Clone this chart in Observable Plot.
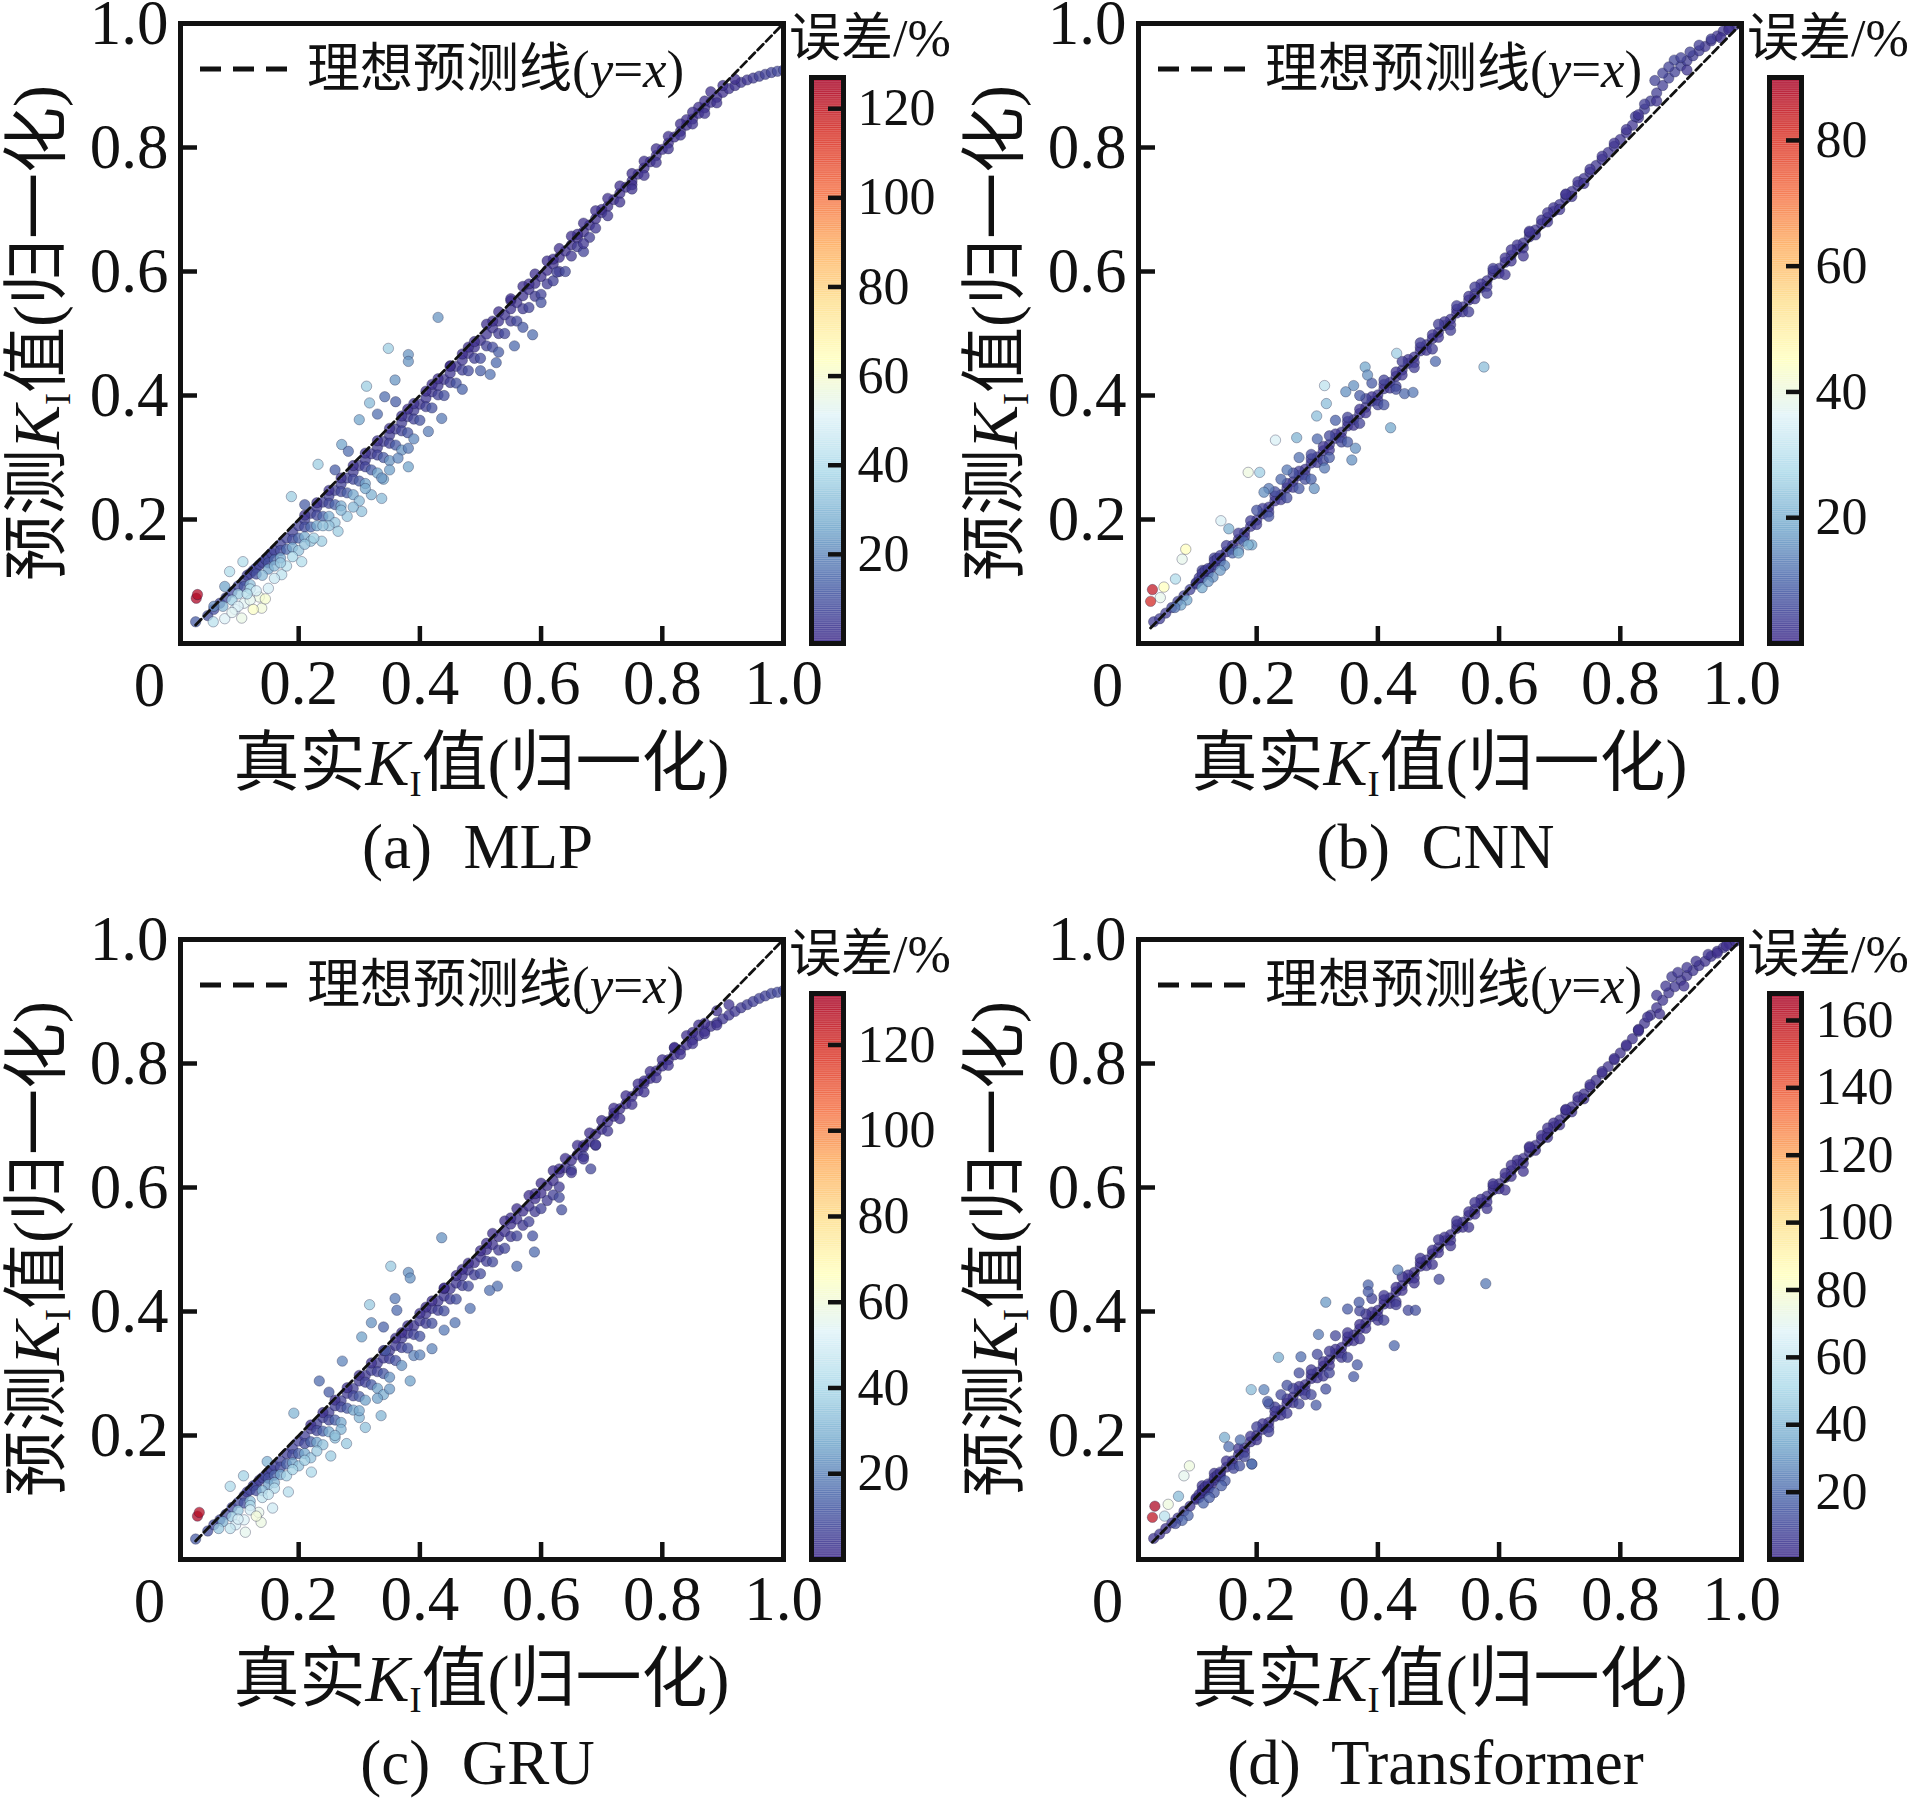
<!DOCTYPE html>
<html>
<head>
<meta charset="utf-8">
<script src="https://cdn.jsdelivr.net/npm/d3@7"></script>
<script src="https://cdn.jsdelivr.net/npm/@observablehq/plot@0.6"></script>
<style>
  body { margin: 0; background: #fff; }
  #fig { position: relative; width: 1914px; height: 1799px; overflow: hidden;
         font-family: "Liberation Serif", "Noto Sans CJK SC", serif; color: #111; }
  .lab { position: absolute; white-space: pre; line-height: 1; }
  .sub { font-size: 0.55em; font-style: normal; position: relative; top: 0.3em; }
  #fig svg { position: absolute; }
</style>
</head>
<body>
<div id="fig"></div>
<script>
// each point: [true KI, predicted KI, error %]
const mlpPoints = [
  [0.03,0.035,12],[0.05,0.045,9],[0.06,0.055,8],[0.07,0.065,7],[0.08,0.074,8],[0.09,0.083,8],[0.10,0.093,7],[0.11,0.102,7],
  [0.115,0.11,5],[0.12,0.113,6],[0.125,0.118,5],[0.13,0.122,6],[0.135,0.127,6],[0.14,0.131,6],[0.145,0.136,6],[0.15,0.14,7],
  [0.155,0.146,6],[0.16,0.15,6],[0.17,0.16,6],[0.18,0.17,6],[0.19,0.18,5],[0.20,0.19,5],[0.21,0.20,5],[0.22,0.21,5],
  [0.23,0.22,4],[0.24,0.228,5],[0.25,0.238,5],[0.26,0.247,5],[0.27,0.257,5],[0.28,0.267,5],[0.29,0.277,4],[0.30,0.287,4],
  [0.31,0.296,4],[0.32,0.306,4],[0.33,0.316,4],[0.34,0.326,4],[0.35,0.336,4],[0.36,0.346,4],[0.37,0.356,4],[0.38,0.366,4],
  [0.39,0.376,4],[0.40,0.386,3],[0.41,0.396,3],[0.42,0.406,3],[0.43,0.416,3],[0.44,0.426,3],[0.45,0.436,3],[0.46,0.447,3],
  [0.47,0.457,3],[0.48,0.468,2],[0.49,0.478,2],[0.50,0.489,2],[0.51,0.499,2],[0.52,0.509,2],[0.53,0.52,2],[0.54,0.53,2],
  [0.55,0.54,2],[0.56,0.55,2],[0.57,0.561,2],[0.58,0.571,2],[0.59,0.581,1],[0.60,0.592,1],[0.61,0.602,1],[0.62,0.612,1],
  [0.63,0.623,1],[0.64,0.633,1],[0.65,0.643,1],[0.66,0.654,1],[0.67,0.664,1],[0.68,0.675,1],[0.69,0.685,1],[0.70,0.695,1],
  [0.71,0.705,1],[0.72,0.716,1],[0.73,0.726,1],[0.74,0.736,1],[0.75,0.746,1],[0.76,0.757,1],[0.77,0.767,1],[0.78,0.777,1],
  [0.79,0.787,1],[0.80,0.797,1],[0.81,0.807,1],[0.82,0.817,1],[0.83,0.826,1],[0.84,0.836,1],[0.85,0.846,1],[0.86,0.855,1],
  [0.87,0.864,1],[0.88,0.873,1],[0.89,0.881,1],[0.90,0.889,1],[0.91,0.895,2],[0.92,0.90,2],[0.93,0.905,3],[0.94,0.909,3],
  [0.95,0.912,4],[0.96,0.915,5],[0.97,0.918,5],[0.98,0.921,6],[0.99,0.923,7],[1.00,0.925,8],
  [0.86,0.865,1],[0.88,0.89,1],[0.90,0.90,1],[0.92,0.91,1],[0.84,0.845,1],[0.75,0.74,1],[0.70,0.70,1],[0.66,0.66,1],
  [0.62,0.62,1],[0.58,0.58,1],[0.55,0.553,1],[0.52,0.52,1],[0.48,0.478,1],[0.45,0.448,1],[0.42,0.418,1],[0.38,0.378,1],
  [0.51,0.515,1],[0.53,0.535,1],[0.55,0.556,1],[0.57,0.576,1],[0.59,0.596,1],[0.61,0.617,1],[0.63,0.637,1],[0.65,0.657,1],
  [0.67,0.678,1],[0.69,0.698,1],[0.71,0.718,1],[0.73,0.738,1],[0.75,0.758,1],[0.77,0.778,1],[0.79,0.798,1],[0.81,0.818,1],
  [0.83,0.838,1],[0.85,0.857,1],[0.87,0.875,1],
  [0.21,0.207,2],[0.23,0.227,2],[0.25,0.247,2],[0.27,0.267,2],[0.29,0.287,2],[0.31,0.307,2],[0.33,0.327,2],[0.35,0.347,2],
  [0.37,0.367,2],[0.39,0.387,2],[0.41,0.407,1],[0.43,0.427,1],[0.45,0.447,1],[0.47,0.467,1],[0.49,0.487,1],
  [0.68,0.655,4],[0.66,0.64,4],[0.67,0.632,6],
  [0.11,0.092,10],[0.13,0.112,9],[0.15,0.13,9],[0.17,0.15,8],[0.19,0.168,8],[0.21,0.188,8],[0.23,0.207,7],[0.25,0.226,7],
  [0.27,0.245,7],[0.29,0.265,7],[0.31,0.285,6],[0.33,0.304,6],[0.35,0.323,6],[0.37,0.343,6],[0.39,0.362,6],[0.41,0.382,5],
  [0.43,0.401,5],[0.45,0.421,5],[0.47,0.441,5],[0.49,0.46,5],[0.51,0.48,5],[0.53,0.50,4],[0.55,0.52,4],[0.57,0.54,4],
  [0.59,0.56,4],[0.61,0.58,4],[0.63,0.60,4],[0.65,0.625,3],[0.67,0.645,3],[0.69,0.67,3],[0.71,0.69,3],[0.73,0.712,2],
  [0.75,0.733,2],[0.77,0.755,2],[0.79,0.776,2],[0.81,0.798,2],[0.83,0.82,2],[0.85,0.838,2],[0.87,0.855,2],[0.89,0.872,2],
  [0.16,0.135,14],[0.18,0.152,14],[0.20,0.17,14],[0.22,0.188,14],[0.24,0.205,13],[0.26,0.224,13],[0.28,0.243,12],[0.30,0.262,12],
  [0.32,0.28,12],[0.34,0.30,11],[0.36,0.32,11],[0.38,0.34,10],[0.40,0.36,10],[0.42,0.38,9],[0.44,0.40,9],[0.46,0.42,9],
  [0.48,0.44,8],[0.50,0.46,8],[0.52,0.478,8],[0.54,0.50,7],[0.56,0.52,7],[0.58,0.542,6],[0.60,0.563,6],[0.62,0.585,5],
  [0.15,0.12,25],[0.17,0.138,26],[0.19,0.155,26],[0.21,0.172,27],[0.23,0.19,26],[0.25,0.205,27],[0.27,0.222,27],
  [0.29,0.24,26],[0.31,0.258,25],[0.33,0.275,25],[0.35,0.295,22],[0.37,0.312,22],[0.39,0.33,20],[0.14,0.11,30],
  [0.12,0.095,32],[0.10,0.08,35],[0.16,0.125,30],[0.20,0.15,33],[0.22,0.165,34],[0.26,0.195,33],[0.30,0.23,30],
  [0.34,0.265,28],[0.12,0.088,40],[0.09,0.07,36],[0.075,0.06,30],[0.095,0.055,50],[0.11,0.065,52],[0.135,0.075,56],
  [0.381,0.285,25],[0.337,0.234,30],[0.32,0.24,28],[0.304,0.213,32],[0.265,0.181,35],[0.238,0.165,35],[0.205,0.132,40],
  [0.172,0.111,42],[0.15,0.089,48],[0.139,0.057,58],[0.106,0.041,55],[0.078,0.04,50],[0.059,0.035,42],[0.414,0.342,18],
  [0.436,0.363,17],[0.337,0.267,22],[0.364,0.299,20],[0.381,0.315,18],[0.35,0.28,24],[0.29,0.22,30],[0.28,0.205,33],
  [0.25,0.19,32],[0.225,0.17,36],[0.19,0.14,38],[0.18,0.125,42],[0.16,0.105,45],[0.13,0.085,48],[0.12,0.07,53],
  [0.10,0.06,50],[0.09,0.05,52],[0.145,0.072,60],[0.125,0.055,62],[0.115,0.08,40],[0.17,0.13,34],[0.21,0.16,32],
  [0.31,0.25,26],[0.27,0.215,30],[0.24,0.19,32],
  [0.348,0.476,35],[0.381,0.466,22],[0.381,0.455,22],[0.312,0.415,35],[0.359,0.425,22],[0.317,0.388,30],[0.30,0.361,25],
  [0.342,0.398,15],[0.271,0.321,25],[0.282,0.31,15],[0.232,0.289,35],[0.188,0.237,35],[0.21,0.224,12],[0.108,0.132,40],
  [0.086,0.116,40],[0.078,0.092,25],[0.43,0.526,22],[0.33,0.37,15],[0.36,0.39,12],[0.26,0.28,12],[0.06,0.06,20],
  [0.626,0.599,5],[0.586,0.498,15],[0.556,0.48,14],[0.526,0.453,14],[0.516,0.434,16],[0.60,0.55,9],[0.64,0.60,7],
  [0.57,0.51,11],[0.53,0.47,12],[0.50,0.44,12],[0.47,0.41,13],
  [0.031,0.073,125],[0.033,0.079,124]
];

const gruPoints = [
  [0.03,0.033,12],[0.05,0.046,9],[0.06,0.056,8],[0.07,0.064,8],[0.08,0.073,8],[0.09,0.084,7],[0.10,0.092,8],[0.11,0.103,6],
  [0.115,0.109,5],[0.12,0.112,7],[0.125,0.119,5],[0.13,0.121,7],[0.135,0.128,5],[0.14,0.132,6],[0.145,0.135,7],[0.15,0.141,6],
  [0.155,0.145,6],[0.16,0.151,6],[0.17,0.159,6],[0.18,0.171,5],[0.19,0.179,6],[0.20,0.191,5],[0.21,0.199,5],[0.22,0.211,4],
  [0.23,0.219,5],[0.24,0.229,5],[0.25,0.237,5],[0.26,0.248,5],[0.27,0.256,5],[0.28,0.268,4],[0.29,0.276,5],[0.30,0.288,4],
  [0.31,0.297,4],[0.32,0.305,5],[0.33,0.317,4],[0.34,0.325,4],[0.35,0.337,4],[0.36,0.345,4],[0.37,0.357,4],[0.38,0.365,4],
  [0.39,0.377,3],[0.40,0.385,4],[0.41,0.397,3],[0.42,0.405,4],[0.43,0.417,3],[0.44,0.425,3],[0.45,0.437,3],[0.46,0.446,3],
  [0.47,0.458,3],[0.48,0.467,3],[0.49,0.479,2],[0.50,0.488,2],[0.51,0.50,2],[0.52,0.508,2],[0.53,0.521,2],[0.54,0.529,2],
  [0.55,0.541,2],[0.56,0.549,2],[0.57,0.562,1],[0.58,0.57,2],[0.59,0.582,1],[0.60,0.591,1],[0.61,0.603,1],[0.62,0.611,1],
  [0.63,0.624,1],[0.64,0.632,1],[0.65,0.644,1],[0.66,0.653,1],[0.67,0.665,1],[0.68,0.674,1],[0.69,0.686,1],[0.70,0.694,1],
  [0.71,0.706,1],[0.72,0.715,1],[0.73,0.727,1],[0.74,0.735,1],[0.75,0.747,1],[0.76,0.756,1],[0.77,0.768,1],[0.78,0.776,1],
  [0.79,0.788,1],[0.80,0.796,1],[0.81,0.806,1],[0.82,0.814,1],[0.83,0.822,1],[0.84,0.83,1],[0.85,0.838,1],[0.86,0.845,2],
  [0.87,0.852,2],[0.88,0.86,2],[0.89,0.866,3],[0.90,0.872,3],[0.91,0.878,3],[0.92,0.884,4],[0.93,0.89,4],[0.94,0.895,5],
  [0.95,0.90,5],[0.96,0.905,6],[0.97,0.909,6],[0.98,0.913,7],[0.99,0.915,8],[1.00,0.918,8],
  [0.87,0.865,1],[0.89,0.885,1],[0.91,0.895,2],[0.85,0.85,1],[0.82,0.825,1],[0.77,0.772,1],[0.72,0.72,1],[0.67,0.668,1],
  [0.63,0.63,1],[0.59,0.59,1],[0.55,0.551,1],[0.51,0.51,1],[0.47,0.468,1],[0.44,0.437,1],[0.41,0.407,1],[0.37,0.366,1],
  [0.52,0.526,1],[0.54,0.546,1],[0.56,0.566,1],[0.58,0.587,1],[0.60,0.607,1],[0.62,0.627,1],[0.64,0.647,1],[0.66,0.668,1],
  [0.68,0.688,1],[0.70,0.708,1],[0.72,0.728,1],[0.74,0.748,1],[0.76,0.767,1],[0.78,0.787,1],[0.80,0.806,1],[0.82,0.826,1],
  [0.84,0.845,1],[0.86,0.862,1],
  [0.22,0.217,2],[0.24,0.237,2],[0.26,0.257,2],[0.28,0.277,2],[0.30,0.297,2],[0.32,0.317,2],[0.34,0.337,2],[0.36,0.357,2],
  [0.38,0.377,2],[0.40,0.397,2],[0.42,0.417,1],[0.44,0.438,1],[0.46,0.458,1],[0.48,0.478,1],[0.50,0.498,1],
  [0.69,0.668,4],[0.67,0.65,4],[0.65,0.628,5],
  [0.11,0.091,10],[0.13,0.111,9],[0.15,0.131,9],[0.17,0.149,8],[0.19,0.169,8],[0.21,0.187,8],[0.23,0.208,7],[0.25,0.225,7],
  [0.27,0.246,7],[0.29,0.264,7],[0.31,0.286,6],[0.33,0.303,6],[0.35,0.324,6],[0.37,0.342,6],[0.39,0.363,6],[0.41,0.381,5],
  [0.43,0.402,5],[0.45,0.42,5],[0.47,0.442,5],[0.49,0.459,5],[0.51,0.481,5],[0.53,0.499,4],[0.55,0.521,4],[0.57,0.539,4],
  [0.59,0.561,4],[0.61,0.579,4],[0.63,0.601,4],[0.65,0.624,3],[0.67,0.646,3],[0.69,0.669,3],[0.71,0.691,3],[0.73,0.711,2],
  [0.75,0.734,2],[0.77,0.754,2],[0.79,0.777,2],[0.81,0.797,2],[0.83,0.815,2],[0.85,0.832,2],[0.87,0.848,2],[0.89,0.862,2],
  [0.16,0.136,14],[0.18,0.154,14],[0.20,0.171,14],[0.22,0.19,13],[0.24,0.207,13],[0.26,0.225,13],[0.28,0.244,12],[0.30,0.263,12],
  [0.32,0.282,11],[0.34,0.30,11],[0.36,0.321,10],[0.38,0.341,10],[0.40,0.36,10],[0.42,0.381,9],[0.44,0.401,9],[0.46,0.42,9],
  [0.48,0.441,8],[0.50,0.461,8],[0.52,0.48,8],[0.54,0.502,7],[0.56,0.522,7],[0.58,0.545,6],[0.60,0.566,6],[0.62,0.588,5],
  [0.15,0.121,25],[0.17,0.137,26],[0.19,0.156,26],[0.21,0.171,27],[0.23,0.189,26],[0.25,0.206,27],[0.27,0.221,27],
  [0.29,0.241,26],[0.31,0.257,25],[0.33,0.276,25],[0.35,0.294,22],[0.37,0.313,22],[0.39,0.329,20],[0.14,0.111,30],
  [0.12,0.094,32],[0.10,0.079,35],[0.16,0.124,30],[0.20,0.151,33],[0.22,0.164,34],[0.26,0.196,33],[0.30,0.229,30],
  [0.34,0.266,28],[0.12,0.087,40],[0.09,0.069,36],[0.075,0.061,30],[0.096,0.056,50],[0.11,0.064,52],[0.134,0.076,56],
  [0.384,0.288,25],[0.336,0.232,30],[0.31,0.213,33],[0.279,0.187,35],[0.253,0.167,36],[0.221,0.141,40],[0.183,0.109,42],
  [0.157,0.083,48],[0.138,0.06,58],[0.112,0.044,55],[0.087,0.05,45],[0.068,0.05,35],[0.30,0.24,27],[0.27,0.21,30],
  [0.24,0.185,33],[0.21,0.16,36],[0.18,0.135,38],[0.16,0.115,42],[0.14,0.10,45],[0.12,0.08,50],[0.10,0.065,50],
  [0.13,0.07,60],[0.35,0.275,24],[0.33,0.26,25],[0.40,0.33,20],[0.44,0.37,18],[0.26,0.20,32],[0.23,0.175,35],
  [0.19,0.145,38],[0.15,0.105,44],
  [0.436,0.519,22],[0.352,0.473,35],[0.381,0.463,22],[0.384,0.454,22],[0.317,0.411,35],[0.359,0.421,18],[0.362,0.402,15],
  [0.32,0.382,22],[0.304,0.359,25],[0.343,0.337,12],[0.272,0.32,20],[0.234,0.288,15],[0.192,0.236,30],[0.148,0.158,30],
  [0.109,0.135,38],[0.087,0.118,40],[0.25,0.27,12],[0.34,0.375,14],
  [0.682,0.63,7],[0.634,0.564,9],[0.63,0.584,8],[0.586,0.522,10],[0.589,0.496,15],[0.56,0.473,15],[0.528,0.441,16],
  [0.515,0.434,16],[0.483,0.405,16],[0.458,0.382,17],[0.42,0.34,20],
  [0.033,0.07,130],[0.036,0.076,128]
];

const cnnPoints = [
  [0.03,0.035,3],[0.04,0.04,3],[0.05,0.049,3],[0.06,0.058,4],[0.07,0.068,4],[0.08,0.077,4],[0.09,0.087,4],[0.10,0.096,4],
  [0.105,0.101,4],[0.11,0.106,4],[0.115,0.112,3],[0.12,0.117,3],[0.125,0.122,3],[0.13,0.127,3],[0.14,0.137,3],[0.15,0.148,2],
  [0.16,0.158,2],[0.17,0.168,2],[0.18,0.179,2],[0.19,0.189,2],[0.20,0.199,2],[0.21,0.209,2],[0.22,0.22,2],[0.23,0.23,2],
  [0.24,0.24,2],[0.25,0.251,2],[0.26,0.261,2],[0.27,0.271,2],[0.28,0.281,2],[0.29,0.291,2],[0.30,0.301,2],[0.31,0.311,2],
  [0.32,0.321,2],[0.33,0.331,2],[0.34,0.341,2],[0.35,0.351,2],[0.36,0.361,2],[0.37,0.371,2],[0.38,0.381,2],[0.39,0.391,2],
  [0.40,0.401,2],[0.41,0.411,2],[0.42,0.421,2],[0.43,0.431,2],[0.44,0.441,2],[0.45,0.452,2],[0.46,0.462,2],[0.47,0.472,2],
  [0.48,0.482,2],[0.49,0.492,2],[0.50,0.502,2],[0.51,0.513,2],[0.52,0.523,2],[0.53,0.533,2],[0.54,0.543,2],[0.55,0.554,2],
  [0.56,0.564,2],[0.57,0.574,2],[0.58,0.585,2],[0.59,0.595,2],[0.60,0.605,2],[0.61,0.615,2],[0.62,0.626,2],[0.63,0.636,2],
  [0.64,0.646,2],[0.65,0.656,2],[0.66,0.667,2],[0.67,0.677,2],[0.68,0.687,2],[0.69,0.697,2],[0.70,0.708,2],[0.71,0.718,2],
  [0.72,0.729,2],[0.73,0.739,2],[0.74,0.75,2],[0.75,0.76,2],[0.76,0.771,2],[0.77,0.781,2],[0.78,0.792,2],[0.79,0.802,2],
  [0.80,0.813,2],[0.81,0.824,2],[0.82,0.836,2],[0.83,0.848,2],[0.84,0.862,3],[0.85,0.875,3],[0.86,0.888,3],[0.87,0.90,3],
  [0.88,0.912,4],[0.89,0.922,4],[0.90,0.932,4],[0.91,0.94,3],[0.92,0.948,3],[0.93,0.956,3],[0.94,0.963,2],[0.95,0.972,2],
  [0.96,0.98,2],[0.97,0.988,2],[0.98,0.993,1],[0.99,0.998,1],[1.00,1.0,1],
  [0.857,0.908,4],[0.889,0.941,5],[0.915,0.954,4],[0.87,0.92,4],[0.90,0.945,4],[0.88,0.93,4],[0.84,0.87,3],[0.93,0.965,3],
  [0.95,0.975,3],[0.966,0.977,1],[0.979,0.99,1],[0.825,0.85,3],[0.86,0.875,2],[0.91,0.925,2],
  [0.11,0.118,4],[0.13,0.138,4],[0.15,0.158,3],[0.17,0.178,3],[0.19,0.198,3],[0.21,0.218,3],[0.23,0.238,3],[0.25,0.258,3],
  [0.27,0.278,3],[0.29,0.298,3],[0.31,0.318,2],[0.33,0.338,2],[0.35,0.358,2],[0.37,0.378,2],[0.39,0.398,2],[0.41,0.418,2],
  [0.43,0.438,2],[0.45,0.458,2],[0.47,0.478,2],[0.49,0.498,2],[0.51,0.519,2],[0.53,0.539,2],[0.55,0.56,2],[0.57,0.58,2],
  [0.59,0.601,2],[0.61,0.622,2],[0.63,0.643,2],[0.65,0.663,2],[0.67,0.683,2],[0.69,0.703,2],[0.71,0.724,2],[0.73,0.745,2],
  [0.75,0.765,2],[0.77,0.786,2],[0.79,0.807,2],[0.81,0.829,2],[0.83,0.853,2],
  [0.12,0.112,4],[0.14,0.132,4],[0.16,0.152,3],[0.18,0.172,3],[0.20,0.192,3],[0.22,0.212,3],[0.24,0.232,3],[0.26,0.252,3],
  [0.28,0.272,3],[0.30,0.292,3],[0.32,0.312,2],[0.34,0.332,2],[0.36,0.352,2],[0.38,0.372,2],[0.40,0.392,2],[0.42,0.412,2],
  [0.44,0.433,2],[0.46,0.453,2],[0.48,0.473,2],[0.50,0.494,2],[0.52,0.514,2],[0.54,0.535,2],[0.56,0.556,2],[0.58,0.576,2],
  [0.60,0.597,2],[0.62,0.617,2],[0.64,0.638,2],[0.66,0.659,2],[0.68,0.68,2],[0.70,0.70,2],[0.72,0.721,2],[0.74,0.742,2],
  [0.20,0.215,7],[0.23,0.245,6],[0.26,0.275,6],[0.29,0.305,5],[0.32,0.335,5],[0.35,0.365,4],[0.38,0.395,4],[0.41,0.425,4],
  [0.44,0.455,3],[0.47,0.485,3],[0.50,0.515,3],[0.53,0.545,3],[0.56,0.575,3],[0.59,0.605,3],[0.62,0.635,2],[0.65,0.665,2],
  [0.68,0.695,2],[0.71,0.725,2],[0.22,0.205,7],[0.25,0.235,6],[0.28,0.265,6],[0.31,0.295,5],[0.34,0.325,5],[0.37,0.355,4],
  [0.40,0.385,4],[0.43,0.415,4],[0.46,0.445,3],[0.49,0.475,3],[0.52,0.505,3],[0.55,0.535,3],[0.58,0.565,3],[0.61,0.595,2],
  [0.64,0.625,2],
  [0.25,0.28,12],[0.27,0.30,11],[0.29,0.265,9],[0.33,0.36,9],[0.35,0.325,8],[0.39,0.42,8],[0.41,0.385,7],[0.30,0.33,10],
  [0.24,0.265,10],[0.22,0.25,12],[0.27,0.25,8],[0.37,0.40,8],[0.43,0.41,6],[0.32,0.30,8],
  [0.10,0.098,3],[0.105,0.106,3],[0.11,0.113,3],[0.115,0.118,3],[0.12,0.121,3],[0.13,0.133,3],[0.135,0.137,3],[0.14,0.142,3],
  [0.128,0.107,15],[0.147,0.126,14],[0.16,0.146,10],[0.179,0.165,9],[0.192,0.159,18],[0.11,0.09,18],[0.12,0.10,16],
  [0.14,0.118,16],[0.17,0.15,12],[0.085,0.07,18],[0.075,0.062,18],[0.065,0.058,12],
  [0.575,0.446,22],[0.495,0.455,10],[0.444,0.403,10],[0.458,0.405,12],[0.421,0.348,18],[0.379,0.446,18],[0.383,0.433,15],
  [0.36,0.416,15],[0.312,0.416,30],[0.315,0.387,22],[0.299,0.367,22],[0.347,0.406,15],[0.363,0.315,15],[0.357,0.296,15],
  [0.431,0.468,25],[0.266,0.332,20],[0.231,0.328,35],[0.186,0.276,40],[0.205,0.276,25],[0.212,0.244,15],[0.295,0.25,15],
  [0.312,0.283,12],[0.141,0.198,35],[0.154,0.185,20],[0.186,0.159,20],[0.17,0.146,20],
  [0.083,0.152,45],[0.077,0.136,38],[0.066,0.104,28],[0.047,0.091,45],[0.041,0.074,38],
  [0.028,0.087,85],[0.025,0.068,82]
];

const trfPoints = [
  [0.03,0.034,3],[0.04,0.041,3],[0.05,0.05,3],[0.06,0.059,4],[0.07,0.067,4],[0.08,0.078,4],[0.09,0.086,4],[0.10,0.097,4],
  [0.105,0.10,4],[0.11,0.107,4],[0.115,0.111,3],[0.12,0.118,3],[0.125,0.121,3],[0.13,0.128,3],[0.14,0.138,3],[0.15,0.149,2],
  [0.16,0.159,2],[0.17,0.169,2],[0.18,0.18,2],[0.19,0.19,2],[0.20,0.20,2],[0.21,0.21,2],[0.22,0.221,2],[0.23,0.231,2],
  [0.24,0.241,2],[0.25,0.252,2],[0.26,0.262,2],[0.27,0.272,2],[0.28,0.282,2],[0.29,0.292,2],[0.30,0.302,2],[0.31,0.312,2],
  [0.32,0.322,2],[0.33,0.332,2],[0.34,0.342,2],[0.35,0.352,2],[0.36,0.362,2],[0.37,0.372,2],[0.38,0.382,2],[0.39,0.392,2],
  [0.40,0.402,2],[0.41,0.412,2],[0.42,0.422,2],[0.43,0.432,2],[0.44,0.442,2],[0.45,0.453,2],[0.46,0.463,2],[0.47,0.473,2],
  [0.48,0.483,2],[0.49,0.493,2],[0.50,0.503,2],[0.51,0.514,2],[0.52,0.524,2],[0.53,0.534,2],[0.54,0.544,2],[0.55,0.555,2],
  [0.56,0.565,2],[0.57,0.575,2],[0.58,0.586,2],[0.59,0.596,2],[0.60,0.606,2],[0.61,0.616,2],[0.62,0.627,2],[0.63,0.637,2],
  [0.64,0.647,2],[0.65,0.657,2],[0.66,0.668,2],[0.67,0.678,2],[0.68,0.688,2],[0.69,0.698,2],[0.70,0.709,2],[0.71,0.719,2],
  [0.72,0.73,2],[0.73,0.74,2],[0.74,0.751,2],[0.75,0.762,2],[0.76,0.773,2],[0.77,0.784,2],[0.78,0.795,2],[0.79,0.806,2],
  [0.80,0.817,2],[0.81,0.828,2],[0.82,0.84,2],[0.83,0.852,3],[0.84,0.865,3],[0.85,0.878,3],[0.86,0.89,3],[0.87,0.902,3],
  [0.88,0.914,4],[0.89,0.924,4],[0.90,0.934,4],[0.91,0.942,3],[0.92,0.95,3],[0.93,0.958,3],[0.94,0.965,2],[0.95,0.973,2],
  [0.96,0.981,2],[0.97,0.987,2],[0.98,0.993,1],[0.99,0.997,1],[1.00,1.0,1],
  [0.86,0.91,4],[0.885,0.94,5],[0.91,0.955,4],[0.875,0.925,4],[0.895,0.947,4],[0.845,0.875,3],[0.925,0.965,3],
  [0.945,0.976,3],[0.96,0.978,1],[0.975,0.99,1],[0.83,0.855,3],[0.865,0.88,2],[0.905,0.925,2],
  [0.11,0.119,4],[0.13,0.139,4],[0.15,0.159,3],[0.17,0.179,3],[0.19,0.199,3],[0.21,0.219,3],[0.23,0.239,3],[0.25,0.259,3],
  [0.27,0.279,3],[0.29,0.299,3],[0.31,0.319,2],[0.33,0.339,2],[0.35,0.359,2],[0.37,0.379,2],[0.39,0.399,2],[0.41,0.419,2],
  [0.43,0.439,2],[0.45,0.459,2],[0.47,0.479,2],[0.49,0.499,2],[0.51,0.52,2],[0.53,0.54,2],[0.55,0.561,2],[0.57,0.581,2],
  [0.59,0.602,2],[0.61,0.623,2],[0.63,0.644,2],[0.65,0.664,2],[0.67,0.684,2],[0.69,0.704,2],[0.71,0.725,2],[0.73,0.746,2],
  [0.75,0.766,2],[0.77,0.787,2],[0.79,0.808,2],[0.81,0.83,2],[0.83,0.854,2],
  [0.12,0.113,4],[0.14,0.133,4],[0.16,0.153,3],[0.18,0.173,3],[0.20,0.193,3],[0.22,0.213,3],[0.24,0.233,3],[0.26,0.253,3],
  [0.28,0.273,3],[0.30,0.293,3],[0.32,0.313,2],[0.34,0.333,2],[0.36,0.353,2],[0.38,0.373,2],[0.40,0.393,2],[0.42,0.413,2],
  [0.44,0.434,2],[0.46,0.454,2],[0.48,0.474,2],[0.50,0.495,2],[0.52,0.515,2],[0.54,0.536,2],[0.56,0.557,2],[0.58,0.577,2],
  [0.60,0.598,2],[0.62,0.618,2],[0.64,0.639,2],[0.66,0.66,2],[0.68,0.681,2],[0.70,0.701,2],[0.72,0.722,2],[0.74,0.743,2],
  [0.20,0.214,7],[0.23,0.246,6],[0.26,0.276,6],[0.29,0.306,5],[0.32,0.336,5],[0.35,0.366,4],[0.38,0.396,4],[0.41,0.426,4],
  [0.44,0.456,3],[0.47,0.486,3],[0.50,0.516,3],[0.53,0.546,3],[0.56,0.576,3],[0.59,0.606,3],[0.62,0.636,2],[0.65,0.666,2],
  [0.68,0.696,2],[0.71,0.726,2],[0.22,0.206,7],[0.25,0.236,6],[0.28,0.266,6],[0.31,0.296,5],[0.34,0.326,5],[0.37,0.356,4],
  [0.40,0.386,4],[0.43,0.416,4],[0.46,0.446,3],[0.49,0.476,3],[0.52,0.506,3],[0.55,0.536,3],[0.58,0.566,3],[0.61,0.596,2],
  [0.64,0.626,2],
  [0.25,0.281,12],[0.27,0.301,11],[0.29,0.266,9],[0.33,0.361,9],[0.35,0.326,8],[0.39,0.421,8],[0.41,0.386,7],[0.30,0.331,10],
  [0.24,0.266,10],[0.22,0.251,12],[0.27,0.251,8],[0.37,0.401,8],[0.43,0.411,6],[0.32,0.301,8],
  [0.10,0.099,3],[0.105,0.105,3],[0.11,0.112,3],[0.115,0.117,3],[0.12,0.122,3],[0.13,0.132,3],[0.135,0.136,3],[0.14,0.141,3],
  [0.13,0.108,15],[0.148,0.127,14],[0.162,0.147,10],[0.18,0.166,9],[0.192,0.154,18],[0.112,0.091,18],[0.122,0.10,16],
  [0.142,0.119,16],[0.172,0.151,12],[0.087,0.071,18],[0.077,0.063,18],[0.066,0.058,12],
  [0.578,0.445,22],[0.501,0.452,10],[0.45,0.402,10],[0.462,0.402,12],[0.427,0.345,18],[0.384,0.443,18],[0.384,0.432,15],
  [0.369,0.415,15],[0.314,0.415,30],[0.35,0.404,15],[0.302,0.363,22],[0.366,0.314,15],[0.36,0.295,15],[0.433,0.467,25],
  [0.273,0.327,20],[0.236,0.326,35],[0.191,0.274,40],[0.212,0.274,25],[0.218,0.255,15],[0.298,0.249,15],[0.314,0.275,12],
  [0.147,0.197,35],[0.154,0.182,20],[0.173,0.193,20],[0.192,0.154,20],
  [0.089,0.151,75],[0.08,0.135,70],[0.071,0.102,40],[0.054,0.089,75],[0.048,0.07,55],
  [0.032,0.086,165],[0.028,0.068,160]
];

const xTicks = [0.2, 0.4, 0.6, 0.8, 1.0];
const yTicks = [0.2, 0.4, 0.6, 0.8, 1.0];
const cbTicksMLP = [20, 40, 60, 80, 100, 120];
const cbTicksCNN = [20, 40, 60, 80];
const cbTicksGRU = [20, 40, 60, 80, 100, 120];
const cbTicksTRF = [20, 40, 60, 80, 100, 120, 140, 160];
const errMaxes = [127, 90, 132, 168];
const captions = ["(a)  MLP", "(b)  CNN", "(c)  GRU", "(d)  Transformer"];
// reversed red-yellow-blue ramp, low end leaning purple as in the figure
const errColors = ["#3d2a8a", "#4a62a8", "#74a8cc", "#abd9e9", "#e0f3f8", "#ffffbf",
                   "#fee090", "#fdae61", "#f46d43", "#d73027", "#a50026"];

// layout
const FW = 603, FH = 620;
const ML = 175, MR = 12, MT = 30, MB = 80;
const CBW = 32, CBTOP = 54;
const FONT = '"Liberation Serif", "Noto Sans CJK SC", serif';
const INK = "#111";

const fig = document.getElementById("fig");

function colorScale(errMax) {
  return {type: "linear", domain: [0, errMax], interpolate: d3.piecewise(d3.interpolateRgb, errColors), clamp: true};
}

function scatterPanel(pts, errMax) {
  const diag = d3.extent(pts, d => d[0]);
  return Plot.plot({
    width: ML + FW + MR, height: MT + FH + MB,
    marginLeft: ML, marginRight: MR, marginTop: MT, marginBottom: MB,
    x: {domain: [0.005, 1], axis: null},
    y: {domain: [0, 1], axis: null},
    color: colorScale(errMax),
    style: {fontFamily: FONT, color: INK, background: "transparent", overflow: "visible"},
    marks: [
      Plot.dot(pts, {x: d => d[0], y: d => d[1], fill: d => d[2], r: 5.2, fillOpacity: 0.75,
        stroke: "#14143a", strokeWidth: 0.7, strokeOpacity: 0.45, clip: true}),
      Plot.line(diag.map(v => [v, v]), {x: d => d[0], y: d => d[1], stroke: INK,
        strokeWidth: 2.8, strokeDasharray: "8,4"}),
      Plot.axisX({ticks: xTicks, tickSize: -17, tickPadding: 33, tickFormat: d => d.toFixed(1),
        fontSize: 63, strokeWidth: 4.5, stroke: INK}),
      Plot.axisY({ticks: yTicks, tickSize: -17, tickPadding: 29, tickFormat: d => d.toFixed(1),
        fontSize: 63, strokeWidth: 4.5, stroke: INK}),
      Plot.text(["0"], {text: d => d, frameAnchor: "bottom-left", textAnchor: "middle", lineAnchor: "middle",
        dx: -31, dy: 42, fontSize: 63, fill: INK}),
      Plot.frame({stroke: INK, strokeWidth: 5})
    ]
  });
}

function colorbar(errMax, ticks, h) {
  const step = errMax / 300;
  const slices = d3.range(0, errMax, step);
  return Plot.plot({
    width: 3 + CBW + 110, height: h + 6,
    marginLeft: 3, marginRight: 110, marginTop: 3, marginBottom: 3,
    x: {domain: [0, 1], axis: null},
    y: {domain: [0, errMax], axis: null},
    color: colorScale(errMax),
    style: {fontFamily: FONT, color: INK, background: "transparent", overflow: "visible"},
    marks: [
      Plot.rect(slices, {x1: 0, x2: 1, y1: d => d, y2: d => Math.min(errMax, d + step * 1.5), fill: d => d, fillOpacity: 0.7}),
      Plot.axisY({anchor: "right", ticks, tickSize: -16, tickPadding: 30, tickFormat: d3.format("d"),
        fontSize: 52, strokeWidth: 4.5, stroke: INK}),
      Plot.frame({stroke: INK, strokeWidth: 5})
    ]
  });
}

function label(html, css) {
  const el = document.createElement("div");
  el.className = "lab";
  el.innerHTML = html;
  Object.assign(el.style, css);
  fig.appendChild(el);
  return el;
}

const KI = '<i>K</i><span class="sub">I</span>';
const panelData = [mlpPoints, cnnPoints, gruPoints, trfPoints];
const panelTicks = [cbTicksMLP, cbTicksCNN, cbTicksGRU, cbTicksTRF];
const origins = [[180, 23], [1138, 23], [180, 939], [1138, 939]];

panelData.forEach((pts, i) => {
  const [fl, ft] = origins[i];
  const errMax = errMaxes[i];

  const svg = scatterPanel(pts, errMax);
  svg.style.left = (fl - ML) + "px";
  svg.style.top = (ft - MT) + "px";
  fig.appendChild(svg);

  const cbLeft = fl + FW + 28, cbTop = ft + CBTOP, cbH = FH - CBTOP;
  const cb = colorbar(errMax, panelTicks[i], cbH);
  cb.style.left = (cbLeft - 3) + "px";
  cb.style.top = (cbTop - 3) + "px";
  fig.appendChild(cb);

  // colorbar title
  label("误差/%", {left: (cbLeft - 22) + "px", top: (ft + 16) + "px", fontSize: "52px", transform: "translateY(-50%)"});

  // legend
  const ns = "http://www.w3.org/2000/svg";
  const lg = document.createElementNS(ns, "svg");
  lg.setAttribute("width", 92); lg.setAttribute("height", 10);
  lg.style.left = (fl + 20) + "px"; lg.style.top = (ft + 41) + "px";
  const ln = document.createElementNS(ns, "line");
  ln.setAttribute("x1", 0); ln.setAttribute("x2", 88); ln.setAttribute("y1", 5); ln.setAttribute("y2", 5);
  ln.setAttribute("stroke", INK); ln.setAttribute("stroke-width", 5); ln.setAttribute("stroke-dasharray", "21,12");
  lg.appendChild(ln);
  fig.appendChild(lg);
  label('理想预测线(<i>y</i>=<i>x</i>)', {left: (fl + 127) + "px", top: (ft + 46) + "px", fontSize: "53px", transform: "translateY(-50%)"});

  // axis titles
  label("真实" + KI + "值(归一化)", {left: (fl + FW / 2) + "px", top: (ft + FH + 120) + "px", fontSize: "66px", transform: "translate(-50%,-50%)"});
  label("预测" + KI + "值(归一化)", {left: (fl - 143) + "px", top: (ft + FH / 2) + "px", fontSize: "66px", transform: "translate(-50%,-50%) rotate(-90deg)"});

  // caption
  label(captions[i], {left: (fl + FW / 2 - 4) + "px", top: (ft + FH + 204) + "px", fontSize: "63px", transform: "translate(-50%,-50%)"});
});
</script>
</body>
</html>
